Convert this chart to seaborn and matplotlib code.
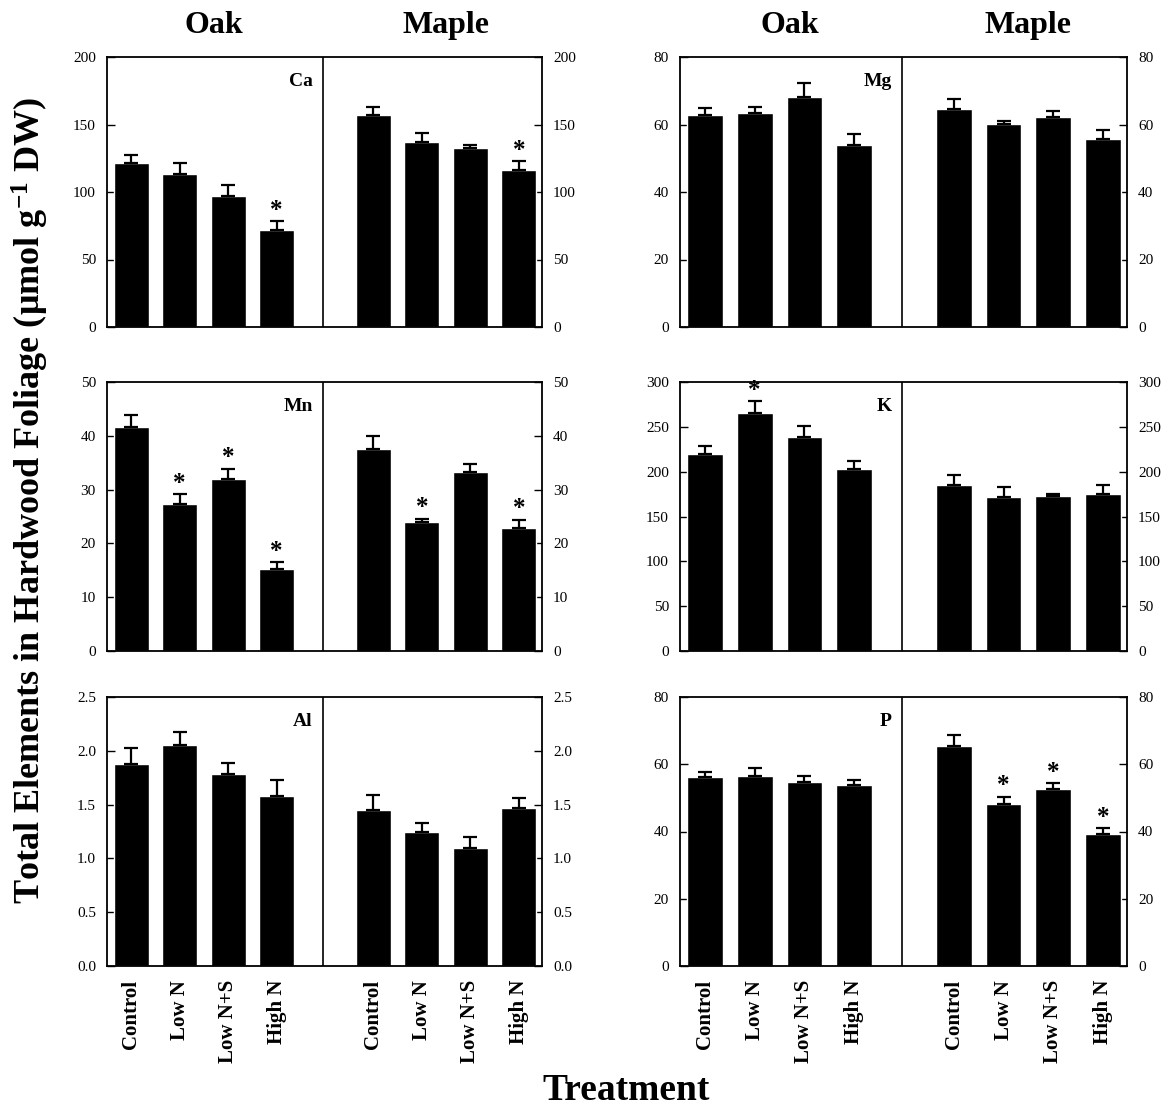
import numpy as np
import pandas as pd
import seaborn as sns
import matplotlib.pyplot as plt

# Treatments and bar positions (Oak 0-3, Maple 5-8)
treatments = ["Control", "Low N", "Low N+S", "High N"]
oak_pos = [0, 1, 2, 3]
maple_pos = [5, 6, 7, 8]

# Values (mean, upper error)
ca_oak = [121.7, 113.5, 97.4, 71.6]
ca_oak_err = [5.8, 7.7, 7.6, 6.7]
ca_maple = [157.0, 137.4, 132.9, 116.5]
ca_maple_err = [5.7, 6.5, 1.8, 6.5]
ca_sig = [0, 0, 0, 1, 0, 0, 0, 1]

mg_oak = [62.9, 63.3, 68.2, 53.9]
mg_oak_err = [2.1, 2.0, 4.2, 3.4]
mg_maple = [64.5, 60.1, 62.2, 55.7]
mg_maple_err = [3.2, 0.8, 1.9, 2.8]
mg_sig = [0, 0, 0, 0, 0, 0, 0, 0]

mn_oak = [41.7, 27.3, 31.9, 15.2]
mn_oak_err = [2.2, 1.9, 2.0, 1.3]
mn_maple = [37.5, 23.9, 33.2, 22.8]
mn_maple_err = [2.4, 0.7, 1.6, 1.6]
mn_sig = [0, 1, 1, 1, 0, 1, 0, 1]

k_oak = [219.4, 265.9, 238.4, 203.1]
k_oak_err = [9.0, 12.6, 12.2, 8.6]
k_maple = [185.3, 171.5, 173.0, 174.9]
k_maple_err = [10.7, 11.2, 1.9, 10.4]
k_sig = [0, 1, 0, 0, 0, 0, 0, 0]

al_oak = [1.878, 2.05, 1.788, 1.582]
al_oak_err = [0.147, 0.123, 0.102, 0.142]
al_maple = [1.447, 1.25, 1.101, 1.471]
al_maple_err = [0.144, 0.083, 0.102, 0.089]
al_sig = [0, 0, 0, 0, 0, 0, 0, 0]

p_oak = [56.3, 56.4, 54.7, 53.8]
p_oak_err = [1.4, 2.5, 1.9, 1.5]
p_maple = [65.4, 48.3, 52.7, 39.3]
p_maple_err = [3.2, 2.1, 1.7, 1.6]
p_sig = [0, 0, 0, 0, 0, 1, 1, 1]

sns.set_style("ticks")
plt.rcParams["font.family"] = ["Liberation Serif", "DejaVu Serif"]
plt.rcParams["mathtext.fontset"] = "custom"
plt.rcParams["mathtext.rm"] = "Liberation Serif:bold"
plt.rcParams["mathtext.bf"] = "Liberation Serif:bold"
plt.rcParams["mathtext.default"] = "bf"
for key in ["text.color", "axes.labelcolor", "xtick.color", "ytick.color", "axes.edgecolor"]:
    plt.rcParams[key] = "black"

fig = plt.figure(figsize=(11.68, 11.08), dpi=100)

col_x = [(107, 435), (680, 447)]
row_y = [(57, 270), (382, 269), (697, 269)]
W, H = 1168, 1108


def make_ax(r, c):
    x0, w = col_x[c]
    y0, h = row_y[r]
    return fig.add_axes([x0 / W, 1 - (y0 + h) / H, w / W, h / H])


panels = [
    (0, 0, "Ca", ca_oak, ca_oak_err, ca_maple, ca_maple_err, ca_sig, 200, 50, "{:.0f}"),
    (0, 1, "Mg", mg_oak, mg_oak_err, mg_maple, mg_maple_err, mg_sig, 80, 20, "{:.0f}"),
    (1, 0, "Mn", mn_oak, mn_oak_err, mn_maple, mn_maple_err, mn_sig, 50, 10, "{:.0f}"),
    (1, 1, "K", k_oak, k_oak_err, k_maple, k_maple_err, k_sig, 300, 50, "{:.0f}"),
    (2, 0, "Al", al_oak, al_oak_err, al_maple, al_maple_err, al_sig, 2.5, 0.5, "{:.1f}"),
    (2, 1, "P", p_oak, p_oak_err, p_maple, p_maple_err, p_sig, 80, 20, "{:.0f}"),
]

for r, c, elem, oak, oak_err, maple, maple_err, sig, ymax, step, fmt in panels:
    ax = make_ax(r, c)
    df = pd.DataFrame({
        "pos": oak_pos + maple_pos,
        "value": oak + maple,
        "err": oak_err + maple_err,
        "sig": sig,
    })
    sns.barplot(data=df, x="pos", y="value", native_scale=True, color="black",
                saturation=1, width=0.72, errorbar=None, ax=ax)
    ax.errorbar(df["pos"], df["value"], yerr=[np.zeros(len(df)), df["err"]],
                fmt="none", ecolor="black", elinewidth=1.6, capsize=5, capthick=1.6)
    for _, row in df[df["sig"] == 1].iterrows():
        ystar = row["value"] + row["err"] + 0.065 * ymax
        ax.annotate("*", (row["pos"], ystar), xytext=(0, -9.5), textcoords="offset points",
                    ha="center", va="baseline", fontsize=18, fontweight="bold")
    ax.axvline(3.95, color="black", lw=1.2)
    ax.set_xlim(-0.5, 8.48)
    ax.set_ylim(0, ymax)
    ticks = np.arange(0, ymax + step / 2, step)
    ax.set_yticks(ticks)
    ax.set_yticklabels([fmt.format(t) for t in ticks])
    ax.tick_params(axis="y", direction="in", length=6, width=1, right=True,
                   labelright=True, labelsize=11, pad=8)
    ax.set_xlabel("")
    ax.set_ylabel("")
    for s in ax.spines.values():
        s.set_linewidth(1.3)
        s.set_visible(True)
    ax.text(3.75, ymax * 0.94, elem, ha="right", va="top", fontsize=14, fontweight="bold")
    if r == 2:
        ax.set_xticks(oak_pos + maple_pos)
        ax.set_xticklabels(treatments + treatments, rotation=90, fontsize=15,
                           fontweight="bold")
        ax.tick_params(axis="x", length=0, pad=10)
    else:
        ax.set_xticks([])
    if r == 0:
        ax.annotate("Oak", (1.7, ymax), xytext=(0, 12), textcoords="offset points",
                    ha="center", va="bottom", fontsize=23, fontweight="bold",
                    annotation_clip=False)
        ax.annotate("Maple", (6.5, ymax), xytext=(0, 12), textcoords="offset points",
                    ha="center", va="bottom", fontsize=23, fontweight="bold",
                    annotation_clip=False)

fig.text(30 / W, 1 - 501 / H, "Total Elements in Hardwood Foliage (\u03bcmol g$^{-1}$ DW)",
         rotation=90, ha="center", va="center", fontsize=26, fontweight="bold")
fig.text(626 / W, 1 - 1091 / H, "Treatment", ha="center", va="center",
         fontsize=27, fontweight="bold")

fig.savefig("out.png", dpi=100, facecolor="white")
